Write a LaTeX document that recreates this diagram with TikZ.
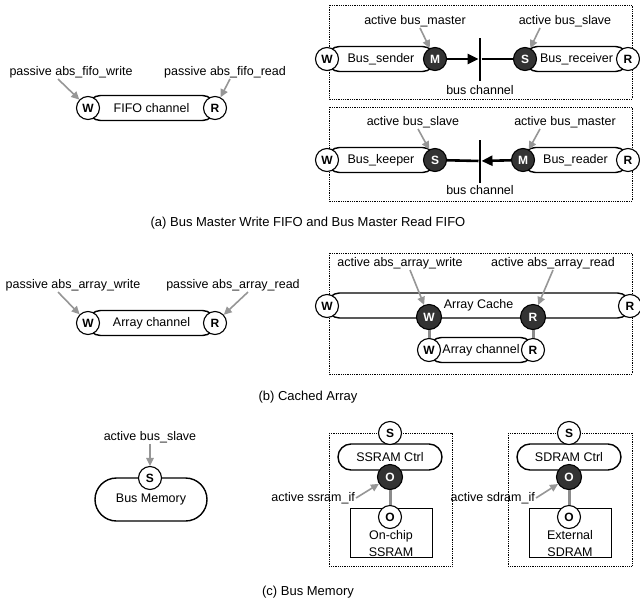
\documentclass[tikz,border=0pt]{standalone}
\usepackage{fontspec}
\setmainfont{Liberation Sans}
\usetikzlibrary{arrows.meta}
\definecolor{portdark}{RGB}{51,51,51}
\definecolor{pointergray}{RGB}{150,150,150}
\definecolor{linkgray}{RGB}{140,140,140}

\begin{document}
\begin{tikzpicture}[x=1pt, y=-1pt,
  every node/.style={font=\fontsize{12.5}{15}\selectfont},
  port/.style={circle, draw, line width=1.1pt, fill=white, inner sep=0pt,
               minimum size=23pt, font=\fontsize{12}{13}\selectfont\bfseries},
  aport/.style={port, fill=portdark, text=white},
  chan/.style={draw, line width=1.4pt, rounded corners=12.5pt,
               minimum height=25pt, inner sep=0pt},
  memblock/.style={draw, line width=1pt, minimum width=82pt, minimum height=49pt},
  tag/.style={inner sep=1pt},
  ptr/.style={-{Triangle[length=8pt, width=7.5pt]}, line width=1.6pt, pointergray},
  busarr/.style={-{Triangle[length=11pt, width=10pt]}, line width=2.6pt},
  busw/.style={line width=2.6pt},
  busbar/.style={fill=black, minimum width=2.6pt, minimum height=43pt, inner sep=0pt},
  link/.style={line width=3pt, linkgray},
  region/.style={draw, densely dotted, line width=0.8pt},
  caption/.style={font=\fontsize{13}{15}\selectfont}
]
\useasboundingbox (0,0) rectangle (640,600);

% (a) fifo
\node[chan, minimum width=127pt] (fifo) at (151.5,108) {FIFO channel};
\node[port] (fw) at (88,108) {W};
\node[port] (fr) at (215,108) {R};
\node[tag] (fwl) at (71,72) {passive abs\_fifo\_write};
\node[tag] (frl) at (225,72) {passive abs\_fifo\_read};
\draw[ptr] ([xshift=-13pt]fwl.south) -- (fw);
\draw[ptr] ([xshift=5pt]frl.south) -- (fr);

% bus master write
\draw[region] (329,5) rectangle (632,99);
\node[chan, minimum width=108pt] (sender) at (381,59) {Bus\_sender};
\node[chan, minimum width=103pt] (receiver) at (576.5,59) {Bus\_receiver};
\node[port] (sw) at (327,59) {W};
\node[aport] (msw) at (435,59) {M};
\node[aport] (ssw) at (525,59) {S};
\node[port] (rw) at (628,59) {R};
\node[busbar] (barw) at (480,59) {};
\node[tag] (chw) at (480,90) {bus channel};
\node[tag] (mswl) at (415,21) {active bus\_master};
\node[tag] (sswl) at (565,21) {active bus\_slave};
\draw[busarr] (msw) -- (barw);
\draw[busw] (barw) -- (ssw);
\draw[ptr] ([xshift=5pt]mswl.south) -- (msw);
\draw[ptr] ([xshift=-25pt]sswl.south) -- (ssw);

% bus master read
\draw[region] (329,107) rectangle (632,201);
\node[chan, minimum width=108pt] (keeper) at (381,160) {Bus\_keeper};
\node[chan, minimum width=105pt] (reader) at (575.5,160) {Bus\_reader};
\node[port] (kw) at (327,160) {W};
\node[aport] (ssr) at (435,160) {S};
\node[aport] (msr) at (523,160) {M};
\node[port] (rr) at (628,160) {R};
\node[busbar] (barr) at (480,161) {};
\node[tag] (chr) at (480,190) {bus channel};
\node[tag] (ssrl) at (413,122) {active bus\_slave};
\node[tag] (msrl) at (565,122) {active bus\_master};
\draw[busarr] (msr) -- (barr);
\draw[busw] (barr) -- (ssr);
\draw[ptr] ([xshift=5pt]ssrl.south) -- (ssr);
\draw[ptr] ([xshift=-25pt]msrl.south) -- (msr);

\node[caption] (capa) at (308,223) {(a) Bus Master Write FIFO and Bus Master Read FIFO};

% (b) array
\node[chan, minimum width=127pt] (arr) at (151.5,323) {Array channel};
\node[port] (aw) at (88,323) {W};
\node[port] (ar) at (215,323) {R};
\node[tag] (awl) at (73,285) {passive abs\_array\_write};
\node[tag] (arl) at (233,285) {passive abs\_array\_read};
\draw[ptr] ([xshift=-15pt]awl.south) -- (aw);
\draw[ptr] ([xshift=15pt]arl.south) -- (ar);

% cached array
\draw[region] (329,253) rectangle (632,374);
\node[chan, minimum width=303pt] (cache) at (478.5,305.5) {Array Cache};
\node[chan, minimum width=104pt] (inner) at (481,350) {Array channel};
\node[port] (cw) at (327,306) {W};
\node[port] (cr) at (630,306) {R};
\node[aport, minimum size=25pt] (caw) at (429,317) {W};
\node[aport, minimum size=25pt] (car) at (533,317) {R};
\node[port] (iw) at (429,350) {W};
\node[port] (ir) at (533,350) {R};
\draw[link] (caw) -- (iw);
\draw[link] (car) -- (ir);
\node[tag] (cawl) at (400,263) {active abs\_array\_write};
\node[tag] (carl) at (553,263) {active abs\_array\_read};
\draw[ptr] ([xshift=10pt]cawl.south) -- (caw);
\draw[ptr] (carl.south) -- (car);

\node[caption] (capb) at (308,397) {(b) Cached Array};

% (c) bus memory
\node[chan, minimum width=112pt, minimum height=43pt, rounded corners=21.5pt] (busmem) at (151,499.5) {Bus Memory};
\node[port] (bms) at (150,478) {S};
\node[tag] (bmsl) at (150,437) {active bus\_slave};
\draw[ptr] (bmsl.south) -- (bms);

% ssram
\draw[region] (329,433) rectangle (452,566);
\node[chan, minimum width=104pt, minimum height=26pt, rounded corners=13pt] (sctrl) at (390,457) {SSRAM Ctrl};
\node[memblock] (sram) at (391,533) {};
\node[align=center, font=\fontsize{12.5}{16.5}\selectfont] (sramtxt) at (391,543.5) {On-chip\\SSRAM};
\node[port] (ss) at (390,433) {S};
\node[aport, minimum size=25pt] (so) at (390,477) {O};
\node[port] (sio) at (390,517) {O};
\draw[link] (so) -- (sio);
\node[tag, anchor=east] (sol) at (356,498) {active ssram\_if};
\draw[ptr] (sol.east) -- (so);

% sdram
\draw[region] (508,433) rectangle (632,566);
\node[chan, minimum width=104pt, minimum height=26pt, rounded corners=13pt] (dctrl) at (569,457) {SDRAM Ctrl};
\node[memblock] (dram) at (570,533) {};
\node[align=center, font=\fontsize{12.5}{16.5}\selectfont] (dramtxt) at (570,543.5) {External\\SDRAM};
\node[port] (ds) at (569,433) {S};
\node[aport, minimum size=25pt] (do) at (569,477) {O};
\node[port] (dio) at (569,517) {O};
\draw[link] (do) -- (dio);
\node[tag, anchor=east] (dol) at (536,498) {active sdram\_if};
\draw[ptr] (dol.east) -- (do);

\node[caption] (capc) at (308,592) {(c) Bus Memory};

\end{tikzpicture}
\end{document}
